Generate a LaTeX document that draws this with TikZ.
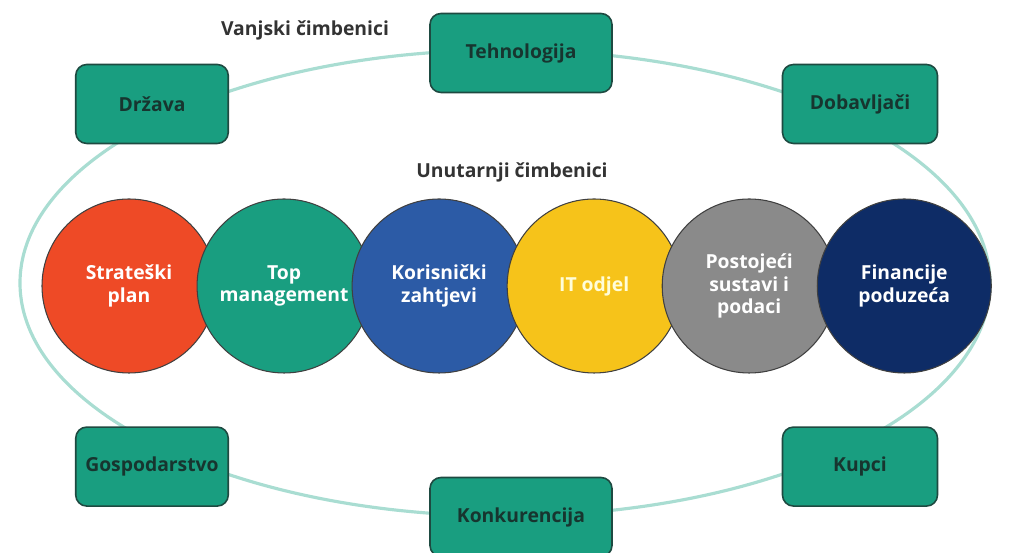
\documentclass[tikz,border=0pt]{standalone}
\usepackage{fontspec}
\setmainfont{Open Sans}
\usepackage{xcolor}
\usepackage{tikz}
\usetikzlibrary{shapes,positioning,calc}

\definecolor{zelena}{HTML}{199E80}
\definecolor{rub}{HTML}{1E4A41}
\definecolor{tekst}{HTML}{17352F}
\definecolor{prsten}{HTML}{A9DDD2}
\definecolor{crvena}{HTML}{EE4A26}
\definecolor{plava}{HTML}{2C5BA6}
\definecolor{zuta}{HTML}{F6C31A}
\definecolor{siva}{HTML}{8A8A8A}
\definecolor{tamnoplava}{HTML}{0E2C66}

\begin{document}
\begin{tikzpicture}[node distance=2cm,
    kutija/.style={draw=rub, line width=0.9pt, fill=zelena, rounded corners=0.22cm,
        minimum width=3.05cm, minimum height=1.58cm, text=tekst,
        font=\fontsize{11}{13}\selectfont\bfseries},
    krug/.style={circle, draw=black!75, line width=0.6pt, minimum size=3.48cm,
        inner sep=0pt, text=white, align=center,
        font=\fontsize{11}{13}\selectfont\bfseries},
    naslov/.style={text=black!80, font=\fontsize{11}{13}\selectfont\bfseries}]
        \useasboundingbox (0,0) rectangle (20.22,11.06);

        % vanjski prsten
        \draw [prsten, line width=1.8pt] (10.1,5.4) ellipse (9.7cm and 4.66cm);

        \node [naslov] (VC) at (6.1,10.46) {Vanjski čimbenici};
        \node [naslov] (UC) at (10.24,7.62) {Unutarnji čimbenici};

        \node [kutija, minimum width=3.64cm] (Teh) at (10.42,10.0) {Tehnologija};
        \node [kutija] (Drz) at (3.04,8.98) {Država};
        \node [kutija, minimum width=3.1cm] (Dob) at (17.2,8.98) {Dobavljači};
        \node [kutija, below=5.64cm of Drz] (Gosp) {Gospodarstvo};
        \node [kutija, minimum width=3.1cm, below=5.64cm of Dob] (Kup) {Kupci};
        \node [kutija, minimum width=3.64cm] (Konk) at (10.42,0.72) {Konkurencija};

        \node [krug, fill=crvena] (SP) at (2.58,5.34) {Strateški\\plan};
        \node [krug, fill=zelena, right=-0.4cm of SP] (TM) {Top\\management};
        \node [krug, fill=plava, right=-0.4cm of TM] (KZ) {Korisnički\\zahtjevi};
        \node [krug, fill=zuta, text=yellow!15, right=-0.4cm of KZ] (IT) {IT odjel};
        \node [krug, fill=siva, right=-0.4cm of IT] (PS) {Postojeći\\sustavi i\\podaci};
        \node [krug, fill=tamnoplava, right=-0.4cm of PS] (FP) {Financije\\poduzeća};
    \end{tikzpicture}
\end{document}
